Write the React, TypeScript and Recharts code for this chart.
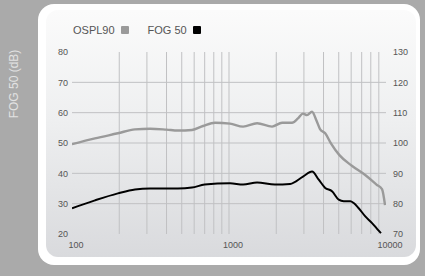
import { Line, LineChart, ReferenceLine, XAxis, YAxis } from "recharts";

// OSPL90 curve (dB SPL)
const osplFreqs = [100, 140, 196, 252, 314, 400, 473, 581, 683, 814, 1015, 1230, 1510, 1880, 2180, 2520, 2750, 2960, 3140, 3380, 3600, 3800, 4100, 4470, 5050, 6060, 7440, 8700, 9430, 9860];
const osplValues = [99.6, 101.5, 103.2, 104.5, 104.7, 104.4, 104.1, 104.3, 105.6, 106.7, 106.4, 105.4, 106.5, 105.4, 106.7, 106.7, 108.1, 109.7, 109.2, 110.3, 107.5, 104.6, 103.2, 99.8, 96.0, 92.5, 89.3, 86.3, 84.8, 79.5];

// FOG 50 curve (dB)
const fogFreqs = [100, 140, 196, 252, 314, 473, 581, 700, 1015, 1230, 1510, 1960, 2450, 2960, 3380, 3730, 4100, 4530, 5000, 5380, 5930, 6230, 6700, 7380, 8150, 8770, 9290];
const fogValues = [28.5, 31.1, 33.4, 34.7, 35.0, 35.0, 35.3, 36.3, 36.7, 36.3, 37.0, 36.3, 36.5, 38.9, 40.6, 37.9, 35.2, 34.1, 31.3, 30.8, 30.8, 30.2, 28.5, 25.8, 23.6, 21.7, 20.3];

const freqTicks = [100, 1000, 10000];
const gridFreqs = [200, 300, 400, 500, 600, 700, 800, 900, 1000, 2000, 3000, 4000, 5000, 6000, 7000, 8000, 9000];
const leftTicks = [20, 30, 40, 50, 60, 70, 80];
const rightTicks = [70, 80, 90, 100, 110, 120, 130];
const gridLevels = [30, 40, 50, 60, 70];

const osplData = osplFreqs.map((f, i) => ({ f, v: osplValues[i] }));
const fogData = fogFreqs.map((f, i) => ({ f, v: fogValues[i] }));

const FONT = "'Liberation Sans', Arial, sans-serif";
const TICK = { fontSize: 9, fill: "#555", fontFamily: FONT };
const GRID = "#c0c1c3";

export default function App() {
  return (
    <div
      style={{
        position: "absolute",
        left: 0,
        top: 0,
        width: 425,
        height: 276,
        background: "#aaaaaa",
        overflow: "hidden",
        fontFamily: FONT,
      }}
    >
      {/* side label */}
      <div
        style={{
          position: "absolute",
          left: 14,
          top: 84,
          transform: "translate(-50%, -50%) rotate(-90deg)",
          color: "#e2e2e2",
          fontSize: 12,
          whiteSpace: "nowrap",
        }}
      >
        FOG 50 (dB)
      </div>

      {/* card */}
      <div
        style={{
          position: "absolute",
          left: 38,
          top: 4,
          width: 382,
          height: 261,
          borderRadius: 16,
          background: "#ffffff",
        }}
      />
      <div
        style={{
          position: "absolute",
          left: 46,
          top: 10,
          width: 370,
          height: 247,
          borderRadius: 12,
          background: "linear-gradient(#fbfbfb, #eeeff0 45%, #d9dadd)",
        }}
      />

      {/* legend */}
      <div
        style={{
          position: "absolute",
          left: 73,
          top: 24,
          display: "flex",
          alignItems: "center",
          fontSize: 11,
          color: "#555",
        }}
      >
        <span>OSPL90</span>
        <span style={{ width: 8, height: 8, background: "#9a9a9a", marginLeft: 6, borderRadius: 1 }} />
        <span style={{ marginLeft: 19 }}>FOG 50</span>
        <span style={{ width: 8, height: 8, background: "#000", marginLeft: 6, borderRadius: 1 }} />
      </div>

      <div style={{ position: "absolute", left: 0, top: 0 }}>
        <LineChart
          width={425}
          height={276}
          margin={{ top: 52, right: 9, bottom: 22, left: 42 }}
        >
          <XAxis
            dataKey="f"
            type="number"
            scale="log"
            domain={[100, 10000]}
            ticks={freqTicks}
            allowDataOverflow
            axisLine={false}
            tickLine={false}
            tickSize={3}
            tickMargin={5}
            height={20}
            tick={{ ...TICK, dx: 4 }}
          />
          <YAxis
            yAxisId="left"
            domain={[20, 80]}
            ticks={leftTicks}
            axisLine={false}
            tickLine={false}
            tickSize={2}
            tickMargin={2}
            width={30}
            tick={TICK}
          />
          <YAxis
            yAxisId="right"
            orientation="right"
            domain={[70, 130]}
            ticks={rightTicks}
            axisLine={false}
            tickLine={false}
            tickSize={4}
            tickMargin={3}
            width={30}
            tick={{ ...TICK, textAnchor: "start" }}
          />
          {gridFreqs.map((f) => (
            <ReferenceLine key={`x${f}`} x={f} yAxisId="left" stroke={GRID} strokeWidth={1} />
          ))}
          {gridLevels.map((v) => (
            <ReferenceLine key={`y${v}`} y={v} yAxisId="left" stroke={GRID} strokeWidth={1} />
          ))}
          <Line
            yAxisId="right"
            data={osplData}
            dataKey="v"
            type="monotone"
            stroke="#9a9a9a"
            strokeWidth={2.4}
            dot={false}
            isAnimationActive={false}
          />
          <Line
            yAxisId="left"
            data={fogData}
            dataKey="v"
            type="monotone"
            stroke="#000"
            strokeWidth={2}
            dot={false}
            isAnimationActive={false}
          />
        </LineChart>
      </div>
    </div>
  );
}
